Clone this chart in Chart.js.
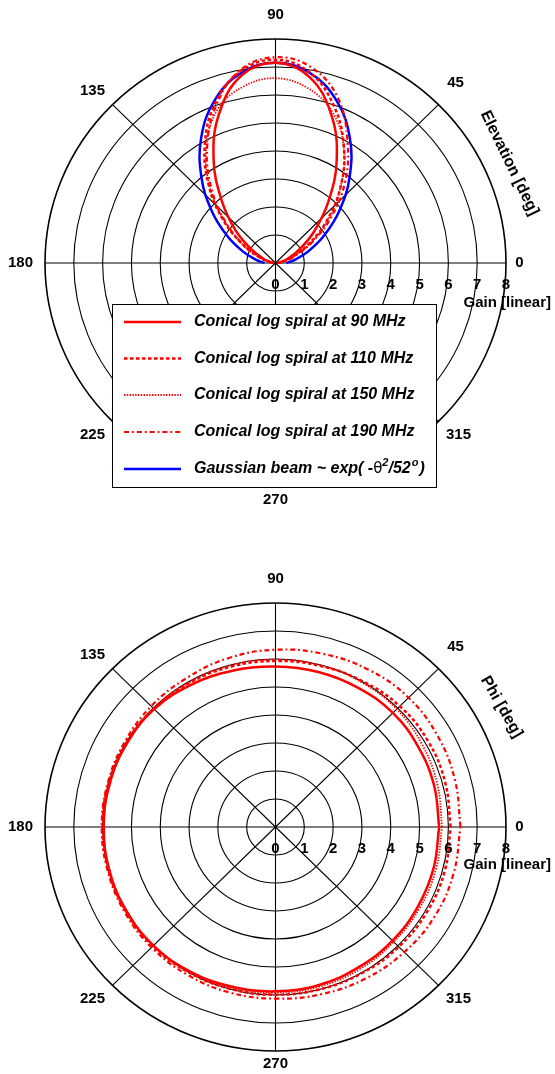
<!DOCTYPE html>
<html>
<head>
<meta charset="utf-8">
<script src="https://cdn.jsdelivr.net/npm/chart.js@4.4.1/dist/chart.umd.min.js"></script>
<style>
  html, body { margin: 0; padding: 0; background: #fff; overflow: hidden; }
  #wrap { position: relative; width: 555px; height: 1074px; }
  canvas { position: absolute; left: 0; }
  #elevChart { top: 0; }
  #phiChart { top: 537px; }
</style>
</head>
<body>
<div id="wrap">
  <canvas id="elevChart" width="555" height="537"></canvas>
  <canvas id="phiChart" width="555" height="537"></canvas>
</div>
<script>
// Gain rings and angle labels
const gainTicks = [0, 1, 2, 3, 4, 5, 6, 7, 8];
const angleTicks = [0, 45, 90, 135, 180, 225, 270, 315];

// Elevation cut (gain, linear) every 10 deg from 0 to 180
const elevAngles = [0, 10, 20, 30, 40, 50, 60, 70, 80, 90, 100, 110, 120, 130, 140, 150, 160, 170, 180];
const elev90  = [0.05, 0.18, 0.45, 0.95, 1.75, 2.85, 4.25, 5.65, 6.75, 7.15, 6.8, 5.7, 4.3, 2.9, 1.8, 0.95, 0.45, 0.18, 0.05];
const elev110 = [0.05, 0.25, 0.6, 1.3, 2.3, 3.5, 4.75, 5.95, 6.9, 7.26, 6.95, 6.1, 4.9, 3.6, 2.35, 1.3, 0.6, 0.2, 0.05];
const elev150 = [0.05, 0.25, 0.65, 1.35, 2.35, 3.5, 4.75, 5.75, 6.35, 6.6, 6.4, 5.85, 4.8, 3.55, 2.3, 1.3, 0.6, 0.2, 0.05];
const elev190 = [0.05, 0.3, 0.7, 1.45, 2.5, 3.75, 5.0, 6.3, 7.1, 7.35, 7.0, 6.0, 4.75, 3.45, 2.25, 1.25, 0.55, 0.2, 0.05];
const elevGauss = [0.38, 0.7, 1.21, 1.94, 2.89, 4.0, 5.16, 6.18, 6.89, 7.15, 6.89, 6.18, 5.16, 4.0, 2.89, 1.94, 1.21, 0.7, 0.38];

// Azimuth cut (gain, linear) every 15 deg, closed at 360
const phiAngles = [0, 15, 30, 45, 60, 75, 90, 105, 120, 135, 150, 165, 180, 195, 210, 225, 240, 255, 270, 285, 300, 315, 330, 345, 360];
const phi90  = [5.68, 5.7, 5.72, 5.76, 5.74, 5.73, 5.73, 5.78, 5.86, 5.95, 5.96, 5.96, 5.96, 5.97, 5.98, 5.99, 5.95, 5.9, 5.87, 5.84, 5.78, 5.74, 5.7, 5.68, 5.68];
const phi110 = [6.08, 6.1, 6.12, 6.1, 6.02, 5.96, 5.93, 5.93, 5.95, 5.98, 6.0, 6.0, 6.0, 6.0, 6.0, 6.02, 6.0, 5.99, 5.99, 6.0, 6.02, 6.05, 6.07, 6.08, 6.08];
const phi150 = [5.78, 5.82, 5.88, 5.95, 5.97, 5.98, 5.98, 5.98, 5.97, 5.97, 5.96, 5.95, 5.95, 5.96, 5.97, 5.98, 5.96, 5.94, 5.92, 5.9, 5.86, 5.8, 5.78, 5.77, 5.78];
const phi190 = [6.42, 6.45, 6.5, 6.53, 6.48, 6.4, 6.33, 6.25, 6.15, 6.1, 6.05, 6.03, 6.03, 6.03, 6.05, 6.08, 6.1, 6.12, 6.13, 6.18, 6.25, 6.32, 6.38, 6.4, 6.42];

const seriesLabels = [
    'Conical log spiral at 90 MHz',
    'Conical log spiral at 110 MHz',
    'Conical log spiral at 150 MHz',
    'Conical log spiral at 190 MHz',
    'Gaussian beam ~ exp( -\u03b8\u00b2/52\u00b0)'
];

const RED = '#ff0000';
const BLUE = '#0000ff';
const styles = [
    { color: RED, width: 2.5, dash: [] },
    { color: RED, width: 2.5, dash: [3.5, 2.5] },
    { color: RED, width: 1.8, dash: [1.4, 1.4] },
    { color: RED, width: 2.2, dash: [5, 3, 1.8, 3] },
    { color: BLUE, width: 2.5, dash: [] }
];

// polar (deg, gain) -> x/y data for the linear scales
function toXY(angles, gains) {
    return angles.map((a, i) => ({
        x: gains[i] * Math.cos(a * Math.PI / 180),
        y: gains[i] * Math.sin(a * Math.PI / 180)
    }));
}

function makeDataset(label, data, s) {
    return {
        label: label,
        data: data,
        showLine: true,
        borderColor: s.color,
        borderWidth: s.width,
        borderDash: s.dash,
        pointRadius: 0,
        tension: 0.4,
        fill: false
    };
}

const FONT = 'bold 15px "Liberation Sans", Arial, sans-serif';

// Draws rings, spokes and all the polar labels behind the curves
const polarGrid = {
    id: 'polarGrid',
    beforeDatasetsDraw(chart, args, opts) {
        const { ctx, scales: { x, y } } = chart;
        const cx = x.getPixelForValue(0);
        const cy = y.getPixelForValue(0);
        const rMax = gainTicks[gainTicks.length - 1];
        ctx.save();
        ctx.strokeStyle = '#000';

        gainTicks.slice(1).forEach(g => {
            const rx = x.getPixelForValue(g) - cx;
            const ry = cy - y.getPixelForValue(g);
            ctx.lineWidth = g === rMax ? 1.6 : 1.1;
            ctx.beginPath();
            ctx.ellipse(cx, cy, rx, ry, 0, 0, 2 * Math.PI);
            ctx.stroke();
        });

        ctx.lineWidth = 1.1;
        angleTicks.forEach(a => {
            const t = a * Math.PI / 180;
            ctx.beginPath();
            ctx.moveTo(cx, cy);
            ctx.lineTo(x.getPixelForValue(rMax * Math.cos(t)), y.getPixelForValue(rMax * Math.sin(t)));
            ctx.stroke();
        });

        // angle labels
        ctx.fillStyle = '#000';
        ctx.font = FONT;
        ctx.textAlign = 'center';
        ctx.textBaseline = 'middle';
        const offs = {
            0: [244, 0], 45: [180, -180], 90: [0, -248], 135: [-183, -172],
            180: [-255, 0], 225: [-183, 172], 270: [0, 237], 315: [183, 172]
        };
        angleTicks.forEach(a => {
            ctx.fillText(String(a), cx + offs[a][0], cy + offs[a][1]);
        });

        // rotated axis title along the rim
        ctx.save();
        ctx.translate(cx + opts.titleDx, cy + opts.titleDy);
        ctx.rotate(opts.titleRot * Math.PI / 180);
        ctx.font = 'bold 16px "Liberation Sans", Arial, sans-serif';
        ctx.fillText(opts.title, 0, 0);
        ctx.restore();
        ctx.restore();
    },
    afterDraw(chart, args, opts) {
        const { ctx, scales: { x, y } } = chart;
        const cx = x.getPixelForValue(0);
        const cy = y.getPixelForValue(0);
        ctx.save();

        if (opts.legend) drawLegend(chart);

        // gain tick labels along the 0 deg axis
        ctx.fillStyle = '#000';
        ctx.font = FONT;
        ctx.textAlign = 'center';
        ctx.textBaseline = 'middle';
        gainTicks.forEach(g => {
            ctx.fillText(String(g), x.getPixelForValue(g), cy + 22);
        });
        ctx.textAlign = 'left';
        ctx.fillText('Gain [linear]', cx + 188, cy + opts.gainDy);
        ctx.restore();
    }
};

// Legend box inside the lower half of the elevation plot
function drawLegend(chart) {
    const ctx = chart.ctx;
    const box = { left: 112, top: 304, right: 436, bottom: 487 };
    ctx.fillStyle = '#fff';
    ctx.fillRect(box.left, box.top, box.right - box.left, box.bottom - box.top);
    ctx.strokeStyle = '#000';
    ctx.lineWidth = 1;
    ctx.strokeRect(box.left + 0.5, box.top + 0.5, box.right - box.left, box.bottom - box.top);

    const rowY = [322, 358.5, 395, 432, 469];
    const font = 'italic bold 16px "Liberation Sans", Arial, sans-serif';
    chart.data.datasets.forEach((ds, i) => {
        const yy = rowY[i];
        ctx.save();
        ctx.strokeStyle = ds.borderColor;
        ctx.lineWidth = ds.borderWidth;
        ctx.setLineDash(ds.borderDash);
        ctx.beginPath();
        ctx.moveTo(124, yy);
        ctx.lineTo(181, yy);
        ctx.stroke();
        ctx.restore();

        ctx.fillStyle = '#000';
        ctx.textAlign = 'left';
        ctx.textBaseline = 'middle';
        ctx.font = font;
        if (i < 4) {
            ctx.fillText(ds.label, 194, yy);
        } else {
            // exponent written with raised superscripts
            let xx = 194;
            const part = (txt, f, dy) => {
                ctx.font = f;
                ctx.fillText(txt, xx, yy + dy);
                xx += ctx.measureText(txt).width;
            };
            const small = 'italic bold 11px "Liberation Sans", Arial, sans-serif';
            part('Gaussian beam ~ exp( -', font, 0);
            part('\u03b8', '15px "DejaVu Sans", sans-serif', 0);
            part('2', small, -6);
            part('/52', font, 0);
            xx += 1;
            part('o', small, -6);
            xx += 1;
            part(')', font, 0);
        }
    });
}

function polarOptions(pad, title) {
    return {
        responsive: false,
        animation: false,
        events: [],
        layout: { padding: pad },
        plugins: {
            legend: { display: false },
            tooltip: { enabled: false },
            polarGrid: title
        },
        scales: {
            x: { type: 'linear', min: -8, max: 8, display: false },
            y: { type: 'linear', min: -8, max: 8, display: false }
        }
    };
}

const elevChart = new Chart(document.getElementById('elevChart').getContext('2d'), {
    type: 'scatter',
    data: {
        datasets: [elev90, elev110, elev150, elev190, elevGauss].map((g, i) =>
            makeDataset(seriesLabels[i], toXY(elevAngles, g), styles[i]))
    },
    options: polarOptions(
        { left: 45, right: 49, top: 39, bottom: 50 },
        { title: 'Elevation [deg]', titleDx: 234, titleDy: -100, titleRot: 64, gainDy: 40, legend: true }
    ),
    plugins: [polarGrid]
});

const phiChart = new Chart(document.getElementById('phiChart').getContext('2d'), {
    type: 'scatter',
    data: {
        datasets: [phi90, phi110, phi150, phi190].map((g, i) =>
            makeDataset(seriesLabels[i], toXY(phiAngles, g), styles[i]))
    },
    options: polarOptions(
        { left: 45, right: 49, top: 66, bottom: 23 },
        { title: 'Phi [deg]', titleDx: 226, titleDy: -120, titleRot: 60, gainDy: 38, legend: false }
    ),
    plugins: [polarGrid]
});
</script>
</body>
</html>
